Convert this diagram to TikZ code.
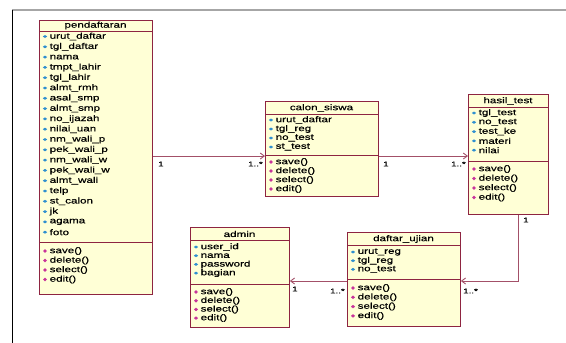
\documentclass[tikz,border=0pt]{standalone}
\usepackage{fontspec}
\setmainfont{Liberation Sans}
\newfontfamily\umlf[FakeStretch=1.4,FakeBold=0.5]{Liberation Sans}
\usetikzlibrary{arrows.meta}
\definecolor{boxc}{HTML}{8E2441}
\definecolor{boxf}{HTML}{FFFFD6}
\definecolor{linec}{HTML}{A35068}
\definecolor{attc}{HTML}{2E8FD0}
\definecolor{metc}{HTML}{C8339A}
\begin{document}
\begin{tikzpicture}[x=1pt,y=-1pt,
  cls/.style={draw=boxc, fill=boxf, line width=0.9pt, inner sep=0, anchor=north west, rectangle},
  sepl/.style={draw=boxc, line width=0.8pt},
  txt/.style={anchor=west, inner sep=0, font=\umlf\fontsize{8.3}{9}\selectfont, text=black},
  ttl/.style={anchor=center, inner sep=0, font=\umlf\fontsize{8.3}{9}\selectfont, text=black},
  lbl/.style={inner sep=0, font=\umlf\fontsize{7}{8}\selectfont, text=black},
  conn/.style={draw=linec, line width=0.9pt},
  nav/.style={-{Straight Barb[length=4pt,width=6pt]}},
  attr/.pic={\fill[attc] (-2.2,0) -- (0,-1.5) -- (2.2,0) -- (0,1.5) -- cycle;},
  meth/.pic={\fill[metc] (-2,0) -- (0,-1.8) -- (2,0) -- (0,1.8) -- cycle;}
]
\useasboundingbox (0,0) rectangle (566,343);
\fill[white] (0,0) rectangle (566,343);
% frame
\draw[gray!70, line width=1.5pt] (12,10) -- (566,10);
\draw[black, line width=1pt] (12,10) -- (12,343);

% ---------- pendaftaran
\node[cls, minimum width=113pt, minimum height=274pt] (pend) at (39,20) {};
\node[ttl] (pendt) at (95.5,25.5) {pendaftaran};
\draw[sepl] (39,31) -- (152,31);
\foreach \t [count=\i from 0] in {urut\_daftar, tgl\_daftar, nama, tmpt\_lahir, tgl\_lahir, almt\_rmh, asal\_smp, almt\_smp, no\_ijazah, nilai\_uan, nm\_wali\_p, pek\_wali\_p, nm\_wali\_w, pek\_wali\_w, almt\_wali, telp, st\_calon, jk, agama, foto}{
  \pic at (45,36.5+\i*10.3) {attr};
  \node[txt] (pa\i) at (49.5,36.5+\i*10.3) {\t};
}
\draw[sepl] (39,242) -- (152,242);
\foreach \t [count=\i from 0] in {save(), delete(), select(), edit()}{
  \pic at (45,251+\i*9.5) {meth};
  \node[txt] (pm\i) at (49.5,251+\i*9.5) {\t};
}

% ---------- calon siswa
\node[cls, minimum width=113pt, minimum height=95pt] (calon) at (265,101) {};
\node[ttl] (calont) at (321.5,108) {calon\_siswa};
\draw[sepl] (265,114) -- (378,114);
\foreach \t [count=\i from 0] in {urut\_daftar, tgl\_reg, no\_test, st\_test}{
  \pic at (271,120+\i*9) {attr};
  \node[txt] (ca\i) at (275.5,120+\i*9) {\t};
}
\draw[sepl] (265,155) -- (378,155);
\foreach \t [count=\i from 0] in {save(), delete(), select(), edit()}{
  \pic at (271,162+\i*9) {meth};
  \node[txt] (cm\i) at (275.5,162+\i*9) {\t};
}

% ---------- hasil test
\node[cls, minimum width=80pt, minimum height=120pt] (hasil) at (468,94) {};
\node[ttl] (hasilt) at (508,101) {hasil\_test};
\draw[sepl] (468,107) -- (548,107);
\foreach \t [count=\i from 0] in {tgl\_test, no\_test, test\_ke, materi, nilai}{
  \pic at (474,113+\i*9.3) {attr};
  \node[txt] (ha\i) at (478.5,113+\i*9.3) {\t};
}
\draw[sepl] (468,161) -- (548,161);
\foreach \t [count=\i from 0] in {save(), delete(), select(), edit()}{
  \pic at (474,169+\i*9.5) {meth};
  \node[txt] (hm\i) at (478.5,169+\i*9.5) {\t};
}

% ---------- admin
\node[cls, minimum width=99pt, minimum height=100pt] (admin) at (190,227) {};
\node[ttl] (admint) at (239.5,234) {admin};
\draw[sepl] (190,240) -- (289,240);
\foreach \t [count=\i from 0] in {user\_id, nama, password, bagian}{
  \pic at (196,247+\i*8.7) {attr};
  \node[txt] (aa\i) at (200.5,247+\i*8.7) {\t};
}
\draw[sepl] (190,284) -- (289,284);
\foreach \t [count=\i from 0] in {save(), delete(), select(), edit()}{
  \pic at (196,292+\i*8.7) {meth};
  \node[txt] (am\i) at (200.5,292+\i*8.7) {\t};
}

% ---------- daftar ujian
\node[cls, minimum width=113pt, minimum height=94pt] (daftar) at (347,232) {};
\node[ttl] (daftart) at (403.5,239) {daftar\_ujian};
\draw[sepl] (347,245) -- (460,245);
\foreach \t [count=\i from 0] in {urut\_reg, tgl\_reg, no\_test}{
  \pic at (353,252+\i*8.7) {attr};
  \node[txt] (da\i) at (357.5,252+\i*8.7) {\t};
}
\draw[sepl] (347,279) -- (460,279);
\foreach \t [count=\i from 0] in {save(), delete(), select(), edit()}{
  \pic at (353,288+\i*9.3) {meth};
  \node[txt] (dm\i) at (357.5,288+\i*9.3) {\t};
}

% ---------- connectors
\coordinate (yA) at (0,156);
\coordinate (yC) at (0,281);
\coordinate (xD) at (518,0);
\coordinate (bend) at (518,281);
\draw[conn,nav] (pend.east |- yA) -- (calon.west |- yA);
\node[lbl, anchor=west] (l1) at (158,164) {1};
\node[lbl, anchor=east] (l2) at (263,164) {1..*};
\draw[conn,nav] (calon.east |- yA) -- (hasil.west |- yA);
\node[lbl, anchor=west] (l3) at (383,164) {1};
\node[lbl, anchor=east] (l4) at (466,164) {1..*};
\draw[conn,nav] (daftar.west |- yC) -- (admin.east |- yC);
\node[lbl, anchor=west] (l5) at (292,289) {1};
\node[lbl, anchor=east] (l6) at (345,291) {1..*};
\draw[conn,nav] (hasil.south -| xD) -- (bend) -- (daftar.east |- bend);
\node[lbl, anchor=west] (l7) at (523,220) {1};
\node[lbl, anchor=west] (l8) at (463,291) {1..*};
\end{tikzpicture}
\end{document}
